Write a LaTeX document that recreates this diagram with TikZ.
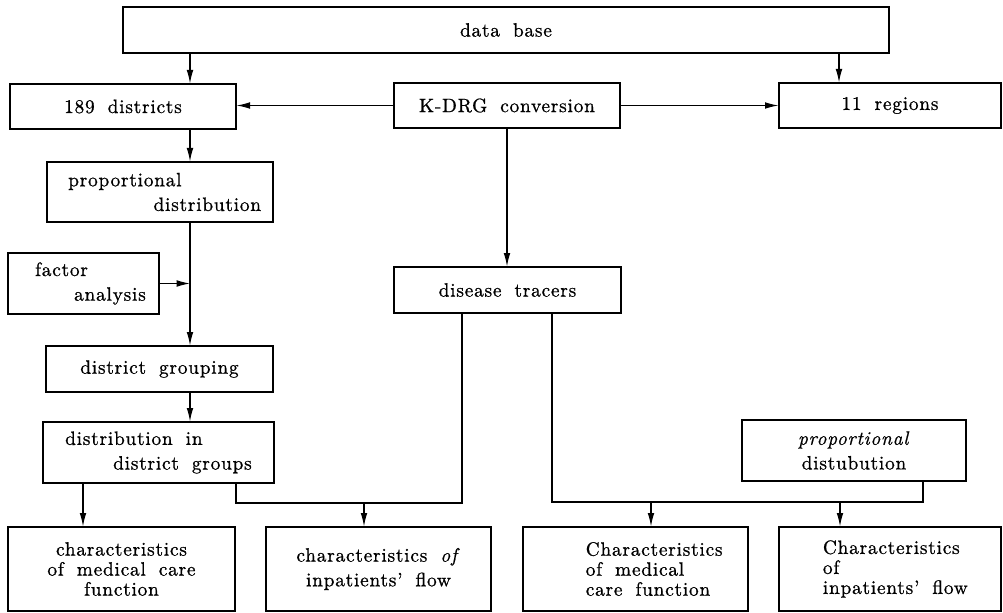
\documentclass[tikz,border=0pt]{standalone}
\usepackage{fontspec}
\setmainfont{lmroman10}[Extension=.otf, UprightFont=*-regular, ItalicFont=*-italic, BoldFont=*-bold, BoldItalicFont=*-bolditalic, LetterSpace=4, WordSpace=1.8, FakeBold=0.8]
\usetikzlibrary{arrows.meta}
\begin{document}
\begin{tikzpicture}[x=0.75pt,y=-0.75pt,
  font=\fontsize{14.5pt}{15pt}\selectfont,
  bx/.style={draw, line width=1pt, inner sep=1pt, align=center},
  lbx/.style={draw, line width=1pt, inner sep=1pt, align=left},
  two/.style={font=\fontsize{14.5pt}{18.5pt}\selectfont},
  ln/.style={line width=0.8pt},
  ar/.style={ln, -{Latex[length=10pt,width=5pt]}}]
\useasboundingbox (0,0) rectangle (1003,613);

% boxes
\node[bx, minimum width=574.5pt, minimum height=34.5pt] (db) at (506,30) {data base};
\node[bx, minimum width=169.5pt, minimum height=33.75pt] (d189) at (123,106.5) {189 districts};
\node[bx, minimum width=169.5pt, minimum height=33.75pt] (kdrg) at (507,105.5) {K-DRG conversion};
\node[bx, minimum width=166.5pt, minimum height=33.75pt] (reg) at (890,105.5) {11 regions};
\node[lbx, two, minimum width=169.5pt, minimum height=45pt] (prop) at (160,192) {\hspace*{7pt}proportional\\\hspace*{71pt}distribution};
\node[lbx, two, minimum width=113.25pt, minimum height=45.75pt] (fac) at (83.5,283.5) {\hspace*{10.5pt}factor\\\hspace*{39.75pt}analysis};
\node[bx, minimum width=170.25pt, minimum height=34.5pt] (dis) at (507.5,290) {disease tracers};
\node[bx, minimum width=170.25pt, minimum height=34.5pt] (grp) at (159.5,369) {district grouping};
\node[lbx, two, minimum width=173.25pt, minimum height=45.75pt] (dig) at (158.5,452.5) {distribution in\\\hspace*{36pt}district groups};
\node[bx, two, minimum width=168pt, minimum height=45.75pt] (pd2) at (854,450.5) {\textit{proportional}\\distubution};
\node[bx, minimum width=170.25pt, minimum height=63pt] (b1) at (121.5,569) {characteristics\\of medical care\\function};
\node[bx, two, minimum width=168.75pt, minimum height=63pt] (b2) at (378.5,569) {characteristics \textit{of}\\inpatients' flow};
\node[lbx, minimum width=168.75pt, minimum height=63pt] (b3) at (635.5,569) {\hspace*{28pt}Characteristics\\\hspace*{28pt}of medical\\\hspace*{28pt}care function};
\node[lbx, minimum width=166.5pt, minimum height=63pt] (b4) at (890,569) {\hspace*{8pt}Characteristics\\\hspace*{8pt}of\\\hspace*{8pt}inpatients' flow};

% helper coordinates
\coordinate (vx) at (190,0);
\coordinate (rx) at (839,0);
\coordinate (ax1) at (83,0);
\coordinate (l1) at (236,0);
\coordinate (l2) at (462,0);
\coordinate (hy) at (0,503);
\coordinate (a2) at (364,0);
\coordinate (r1) at (552,0);
\coordinate (r2) at (923,0);
\coordinate (hy2) at (0,502);
\coordinate (a3) at (651,0);
\coordinate (a4) at (840,0);

% connectors
\draw[ar] (db.south -| vx) -- (d189.north -| vx);
\draw[ar] (db.south -| rx) -- (reg.north -| rx);
\draw[ar] (kdrg.west) -- (kdrg.west -| d189.east);
\draw[ar] (kdrg.east) -- (kdrg.east -| reg.west);
\draw[ar] (kdrg.south) -- (kdrg.south |- dis.north);
\draw[ar] (d189.south -| vx) -- (prop.north -| vx);
\draw[ar] (prop.south -| vx) -- (grp.north -| vx);
\draw[ar] (fac.east) -- (fac.east -| vx);
\draw[ar] (grp.south -| vx) -- (dig.north -| vx);
\draw[ar] (dig.south -| ax1) -- (b1.north -| ax1);
\draw[ln] (dig.south -| l1) |- (l2 |- hy) -- (dis.south -| l2);
\draw[ar] (a2 |- hy) -- (b2.north -| a2);
\draw[ln] (dis.south -| r1) |- (r2 |- hy2) -- (pd2.south -| r2);
\draw[ar] (a3 |- hy2) -- (b3.north -| a3);
\draw[ar] (a4 |- hy2) -- (b4.north -| a4);
\end{tikzpicture}
\end{document}
